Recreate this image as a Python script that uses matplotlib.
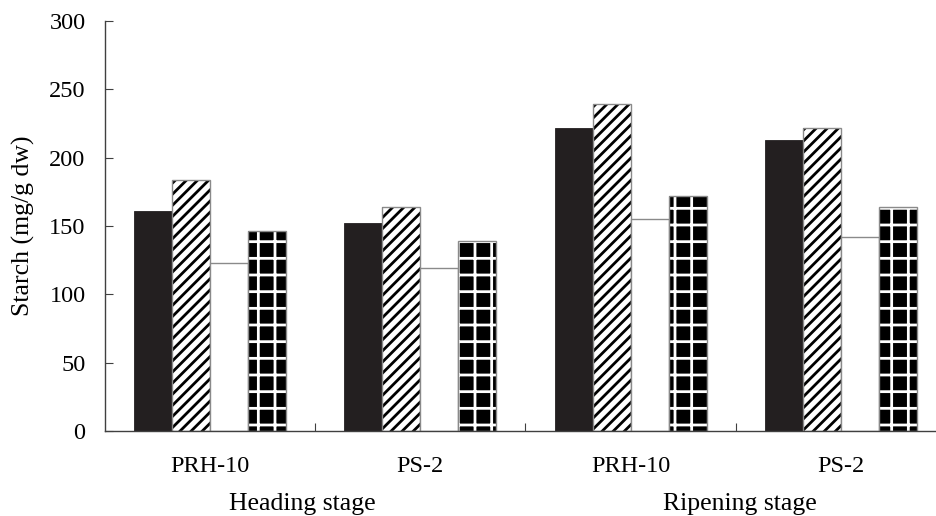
import matplotlib
matplotlib.use("Agg")
import matplotlib.pyplot as plt
import numpy as np

# data
cultivars = ["PRH-10", "PS-2", "PRH-10", "PS-2"]
stages = ["Heading stage", "Ripening stage"]
solid = [161, 152, 222, 213]
striped = [184, 164, 239, 222]
blank = [123, 119, 155, 142]
dotted = [146, 139, 172, 164]

plt.rcParams['font.family'] = ['Liberation Serif', 'DejaVu Serif']
plt.rcParams['hatch.linewidth'] = 2.0

fig = plt.figure(figsize=(9.37, 5.16), dpi=100)
ax = fig.add_axes([105 / 937, 1 - 431 / 516, 841 / 937, 410 / 516])

x = np.arange(len(cultivars))
w = 38 / 210.3
edge = "#8a8a8a"

ax.bar(x - 1.5 * w, solid, w, color="#231f20", edgecolor="#231f20", linewidth=0.6)
# striped bars: black hatch, grey outline drawn on top
ax.bar(x - 0.5 * w, striped, w, color="white", edgecolor="black", hatch="///", linewidth=0)
ax.bar(x - 0.5 * w, striped, w, fill=False, edgecolor=edge, linewidth=1.0)
ax.bar(x + 0.5 * w, blank, w, color="white", edgecolor=edge, linewidth=1.0)
# dotted bars: black face cut by a white grid
ax.bar(x + 1.5 * w, dotted, w, color="black", edgecolor="white", hatch="+", linewidth=0)
ax.bar(x + 1.5 * w, dotted, w, fill=False, edgecolor=edge, linewidth=1.0)

ax.set_xlim(-0.5, 3.5)
ax.set_ylim(0, 300)
ax.set_yticks(np.arange(0, 301, 50))
ax.set_xticks(x)
ax.set_xticklabels(cultivars)
ax.set_xticks([0.5, 1.5, 2.5], minor=True)

for s in ["top", "right"]:
    ax.spines[s].set_visible(False)
for s in ["left", "bottom"]:
    ax.spines[s].set_color("#404040")
    ax.spines[s].set_linewidth(1.0)

ax.tick_params(axis="y", direction="in", length=6, width=0.8, color="#404040",
               labelsize=17.5, pad=14)
ax.tick_params(axis="x", which="major", length=0, labelsize=17.5, pad=18)
ax.tick_params(axis="x", which="minor", direction="in", length=6, width=0.8,
               color="#404040")

ax.set_ylabel("Starch (mg/g dw)", fontsize=18.5, labelpad=10)

stage_x = [0.44, 2.52]
for sx, name in zip(stage_x, stages):
    ax.text(sx, -0.193, name, transform=ax.get_xaxis_transform(),
            ha="center", va="baseline", fontsize=18.5)

fig.savefig("out.png", dpi=100)
